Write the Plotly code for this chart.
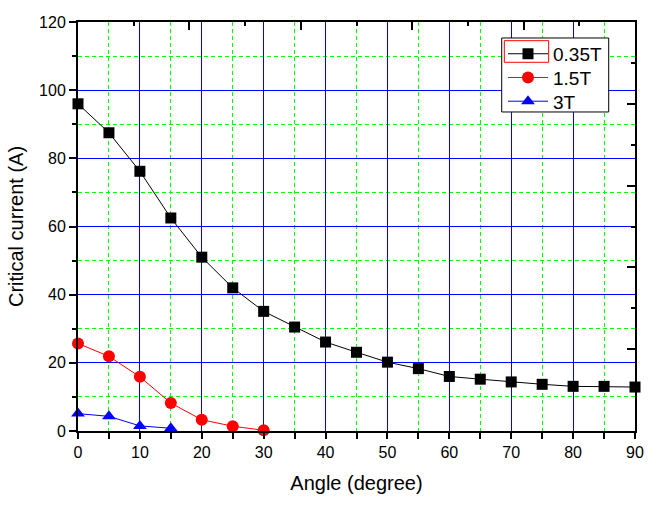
import plotly.graph_objects as go

angles = [0, 5, 10, 15, 20, 25, 30, 35, 40, 45, 50, 55, 60, 65, 70, 75, 80, 85, 90]
ic_035T = [96.0, 87.5, 76.2, 62.5, 51.0, 42.0, 35.1, 30.5, 26.1, 23.1, 20.2, 18.3,
           16.0, 15.2, 14.4, 13.7, 13.1, 13.1, 12.9]
angles_15T = [0, 5, 10, 15, 20, 25, 30]
ic_15T = [25.7, 21.9, 15.9, 8.2, 3.3, 1.4, 0.2]
angles_3T = [0, 5, 10, 15]
ic_3T = [5.1, 4.3, 1.5, 0.8]

FONT = "Arial, 'Liberation Sans', sans-serif"

fig = go.Figure()
fig.add_trace(go.Scatter(x=angles, y=ic_035T, name="0.35T", mode="lines+markers",
                         line=dict(color="black", width=1),
                         marker=dict(symbol="square", size=11, color="black"),
                         cliponaxis=False, legend="legend"))
fig.add_trace(go.Scatter(x=angles_15T, y=ic_15T, name="1.5T", mode="lines+markers",
                         line=dict(color="red", width=1),
                         marker=dict(symbol="circle", size=12, color="red"),
                         cliponaxis=False, legend="legend2"))
fig.add_trace(go.Scatter(x=angles_3T, y=ic_3T, name="3T", mode="lines+markers",
                         line=dict(color="blue", width=1),
                         marker=dict(symbol="triangle-up", size=12, color="blue"),
                         cliponaxis=False, legend="legend3"))
# empty trace to bind the top/right frame axes
fig.add_trace(go.Scatter(x=[], y=[], xaxis="x2", yaxis="y2", showlegend=False,
                         hoverinfo="skip"))

def leg(y):
    return dict(x=0.763, y=y, xanchor="left", yanchor="middle",
                bgcolor="rgba(0,0,0,0)", borderwidth=0,
                font=dict(size=19, family=FONT, color="black"),
                itemwidth=40)

fig.update_layout(
    width=656, height=505, autosize=False,
    margin=dict(l=78, r=21, t=22, b=74),
    paper_bgcolor="white", plot_bgcolor="white",
    font=dict(family=FONT, color="black"),
    showlegend=True,
    legend=leg(0.922), legend2=leg(0.864), legend3=leg(0.806),
    xaxis=dict(range=[0, 90], dtick=10, tick0=0, showgrid=True,
               gridcolor="#0000ff", gridwidth=1, zeroline=False,
               showline=True, linecolor="black", linewidth=2,
               ticks="outside", ticklen=6, tickwidth=2, tickcolor="black",
               tickfont=dict(size=16, family=FONT, color="black"),
               minor=dict(dtick=5, tick0=0, showgrid=True, gridcolor="#00ff00",
                          gridwidth=1, griddash="4px,3px", ticks="outside",
                          ticklen=6, tickwidth=2, tickcolor="black"),
               title=dict(text="Angle (degree)", font=dict(size=20, family=FONT),
                          standoff=16)),
    yaxis=dict(range=[0, 120], dtick=20, tick0=0, showgrid=True,
               gridcolor="#0000ff", gridwidth=1, zeroline=False,
               showline=True, linecolor="black", linewidth=2,
               ticks="outside", ticklen=7, tickwidth=2, tickcolor="black",
               tickfont=dict(size=16, family=FONT, color="black"),
               minor=dict(dtick=10, tick0=0, showgrid=True, gridcolor="#00ff00",
                          gridwidth=1, griddash="4px,3px", ticks="outside",
                          ticklen=4, tickwidth=2, tickcolor="black"),
               title=dict(text="Critical current (A)", font=dict(size=20, family=FONT),
                          standoff=10)),
    xaxis2=dict(range=[0, 90], overlaying="x", side="top", anchor="y",
                showgrid=False, zeroline=False, showticklabels=False,
                showline=True, linecolor="black", linewidth=2,
                dtick=18, tick0=0, ticks="inside", ticklen=8, tickwidth=2,
                tickcolor="black",
                minor=dict(dtick=9, tick0=0, ticks="inside", ticklen=4,
                           tickwidth=2, tickcolor="black", showgrid=False)),
    yaxis2=dict(range=[0, 120], overlaying="y", side="right", anchor="x",
                showgrid=False, zeroline=False, showticklabels=False,
                showline=True, linecolor="black", linewidth=2,
                dtick=24, tick0=0, ticks="inside", ticklen=8, tickwidth=2,
                tickcolor="black",
                minor=dict(dtick=12, tick0=0, ticks="inside", ticklen=4,
                           tickwidth=2, tickcolor="black", showgrid=False)),
    shapes=[
        dict(type="rect", xref="paper", yref="paper", layer="above",
             x0=0.7607, x1=0.9528, y0=0.780, y1=0.9609,
             line=dict(color="black", width=1), fillcolor="white"),
        dict(type="rect", xref="paper", yref="paper", layer="above",
             x0=0.7654, x1=0.845, y0=0.9015, y1=0.9543,
             line=dict(color="red", width=1), fillcolor="rgba(0,0,0,0)"),
    ],
)

fig.write_html("out.html")
